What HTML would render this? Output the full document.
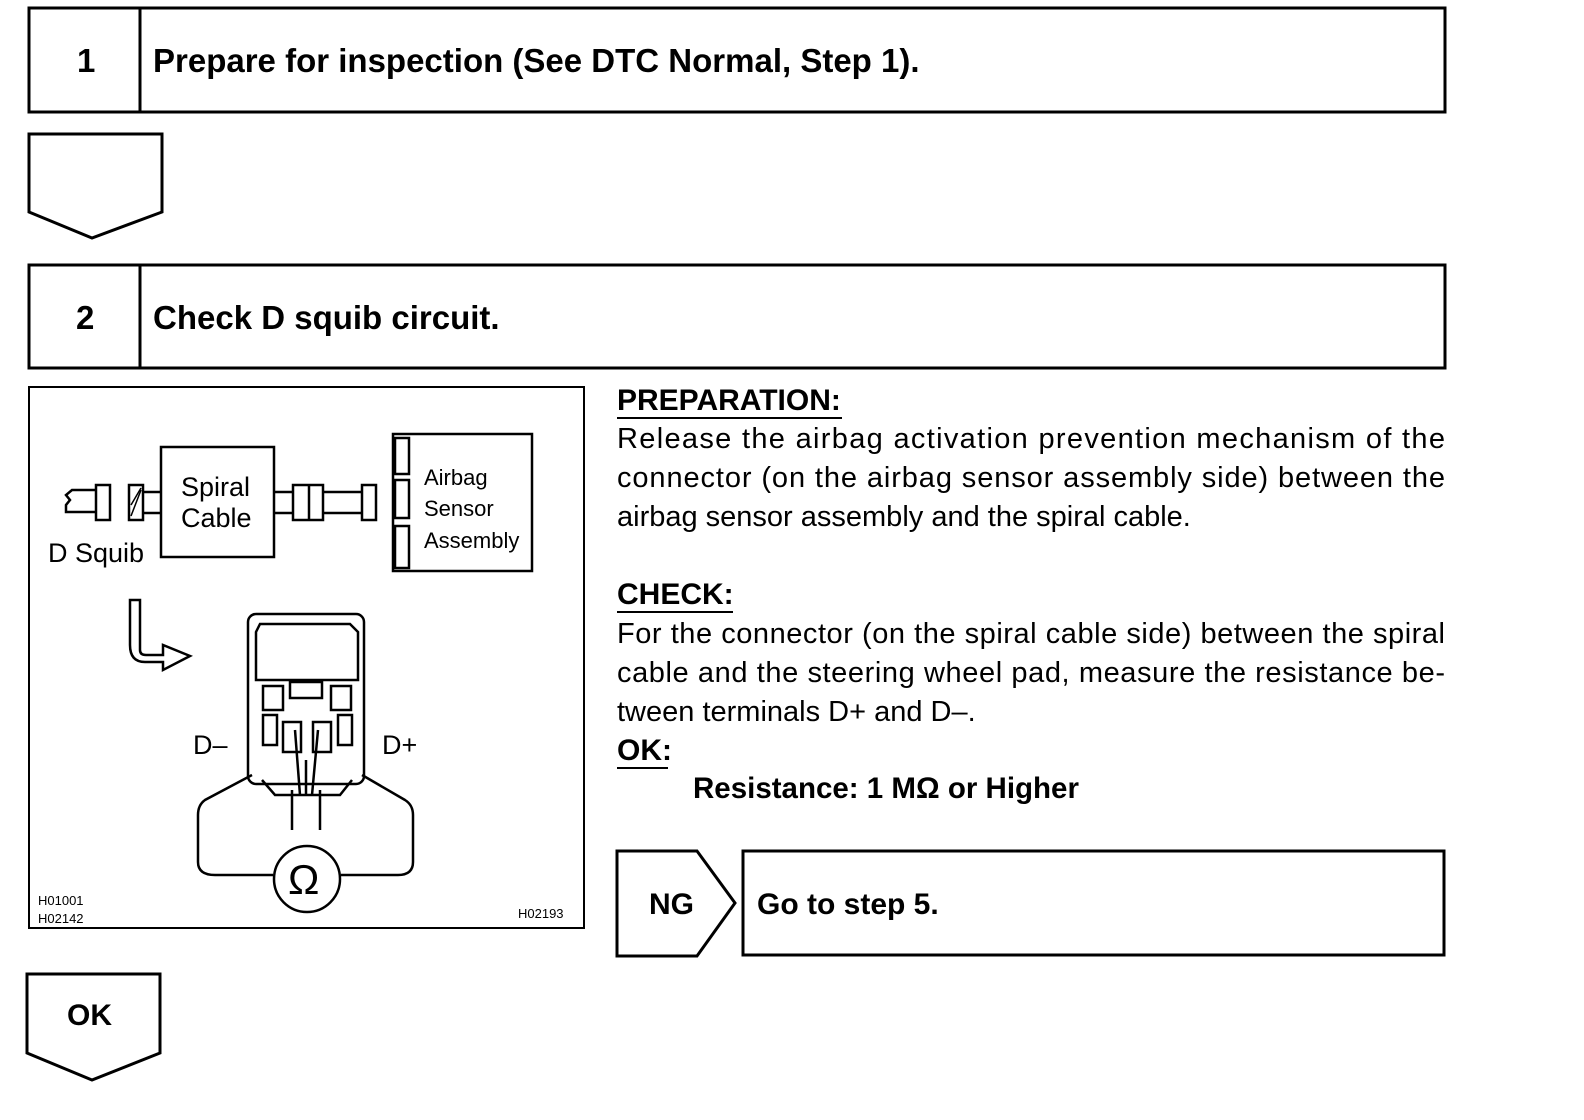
<!DOCTYPE html>
<html><head><meta charset="utf-8"><style>
body{margin:0;background:#fff;}
svg{display:block}
.t{font-family:"Liberation Sans",Arial,sans-serif;fill:#000}
.b{font-weight:bold}
</style></head><body>
<svg width="1584" height="1120" viewBox="0 0 1584 1120" xmlns="http://www.w3.org/2000/svg">
<g fill="none" stroke="#000" stroke-width="3">
<rect x="29" y="8" width="1416" height="104"/>
<line x1="140" y1="8" x2="140" y2="112"/>
<path d="M29 134 H162 V212 L92 238 L29 212 Z"/>
<rect x="29" y="265" width="1416" height="103"/>
<line x1="140" y1="265" x2="140" y2="368"/>
<rect x="29" y="387" width="555" height="541" stroke-width="2"/>
<path d="M617 851 H697 L735 903 L697 956 H617 Z"/>
<rect x="743" y="851" width="701" height="104"/>
<path d="M27 974 H160 V1053 L92 1080 L27 1053 Z"/>
</g>
<g class="t b" font-size="33">
<text x="77" y="72">1</text>
<text x="153" y="72">Prepare for inspection (See DTC Normal, Step 1).</text>
<text x="76" y="329">2</text>
<text x="153" y="329">Check D squib circuit.</text>
</g>
<g class="t b" font-size="30">
<text x="649" y="914">NG</text>
<text x="757" y="914">Go to step 5.</text>
<text x="67" y="1025">OK</text>
</g>
<g class="t" font-size="29">
<text x="617" y="410" class="b" font-size="30">PREPARATION:</text>
<line x1="617" y1="418" x2="842" y2="418" stroke="#000" stroke-width="2"/>
<text x="617" y="448" textLength="828" lengthAdjust="spacing">Release the airbag activation prevention mechanism of the</text>
<text x="617" y="487" textLength="828" lengthAdjust="spacing">connector (on the airbag sensor assembly side) between the</text>
<text x="617" y="526">airbag sensor assembly and the spiral cable.</text>
<text x="617" y="604" class="b" font-size="30">CHECK:</text>
<line x1="617" y1="612" x2="733" y2="612" stroke="#000" stroke-width="2"/>
<text x="617" y="643" textLength="828" lengthAdjust="spacing">For the connector (on the spiral cable side) between the spiral</text>
<text x="617" y="682" textLength="828" lengthAdjust="spacing">cable and the steering wheel pad, measure the resistance be-</text>
<text x="617" y="721">tween terminals D+ and D–.</text>
<text x="617" y="760" class="b" font-size="30">OK:</text>
<line x1="617" y1="768" x2="668" y2="768" stroke="#000" stroke-width="2"/>
<text x="693" y="798" class="b" font-size="29.5">Resistance: 1 MΩ or Higher</text>
</g>
<!-- diagram -->
<g fill="none" stroke="#000" stroke-width="2.5">
<rect x="161" y="447" width="113" height="110"/>
<rect x="393" y="434" width="139" height="137"/>
<rect x="395" y="438" width="14" height="36"/>
<rect x="395" y="480" width="14" height="38"/>
<rect x="395" y="526" width="14" height="42"/>
<path d="M96 490 H72 L66 495 L70 500 L66 505 V512 H96"/>
<rect x="96" y="485" width="14" height="35"/>
<rect x="129" y="485" width="14" height="35"/>
<line x1="131" y1="516" x2="141" y2="490" stroke-width="1.5"/>
<line x1="131" y1="505" x2="141" y2="488" stroke-width="1.5"/>
<path d="M143 492 H161 M143 513 H161"/>
<path d="M274 492 H293 M274 513 H293"/>
<rect x="293" y="485" width="30" height="35"/>
<line x1="309" y1="485" x2="309" y2="520"/>
<path d="M323 492 H362 M323 513 H362"/>
<rect x="362" y="485" width="14" height="35"/>
<path d="M130 600 H140 V650 Q140 655 146 655 H163 V645 L190 656 L163 670 V662 H145 Q130 662 130 645 Z"/>
<rect x="248" y="614" width="116" height="170" rx="8"/>
<path d="M260 624 H350 L358 632 V680 H256 V632 Z"/>
<rect x="263" y="686" width="20" height="24"/><rect x="331" y="686" width="20" height="24"/>
<rect x="290" y="682" width="32" height="16"/>
<rect x="263" y="715" width="14" height="30"/><rect x="338" y="715" width="14" height="30"/>
<rect x="283" y="722" width="18" height="30"/><rect x="313" y="722" width="18" height="30"/>
<path d="M262 780 L275 795 H340 L352 780"/>
<path d="M295 730 L300 795 M318 730 L312 795 M306 760 L306 795"/>
<path d="M292 790 V830 M320 790 V830"/>
<path d="M252 775 L205 800 Q198 805 198 815 V862 Q198 875 215 875 H273"/>
<path d="M362 775 L405 800 Q413 805 413 815 V862 Q413 875 398 875 H341"/>
<circle cx="307" cy="879" r="33"/>
</g>
<g class="t" font-size="27">
<text x="181" y="496">Spiral</text>
<text x="181" y="527">Cable</text>
<text x="48" y="562">D Squib</text>
<text x="193" y="754">D–</text>
<text x="382" y="754">D+</text>
<text x="288" y="894" font-size="42">Ω</text>
</g>
<g class="t" font-size="22">
<text x="424" y="485">Airbag</text>
<text x="424" y="516">Sensor</text>
<text x="424" y="548">Assembly</text>
</g>
<g class="t" font-size="13">
<text x="38" y="905">H01001</text>
<text x="38" y="923">H02142</text>
<text x="518" y="918">H02193</text>
</g>
</svg>
</body></html>
